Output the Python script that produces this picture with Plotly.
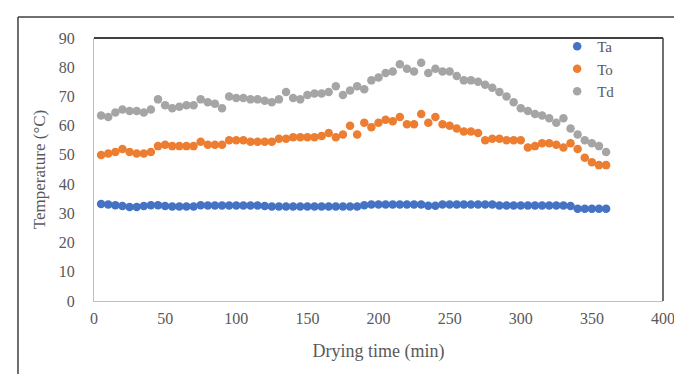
import plotly.graph_objects as go

time_min = list(range(5, 365, 5))

Ta = [33.2, 33.0, 32.8, 32.5, 32.2, 32.2, 32.5, 32.8, 32.8, 32.5,
      32.3, 32.3, 32.3, 32.3, 32.8, 32.7, 32.7, 32.7, 32.7, 32.7,
      32.7, 32.7, 32.7, 32.5, 32.3, 32.3, 32.3, 32.3, 32.3, 32.3,
      32.3, 32.3, 32.3, 32.3, 32.3, 32.3, 32.3, 32.8, 33.0, 33.0,
      33.0, 33.0, 33.0, 33.0, 33.0, 33.0, 32.6, 32.6, 33.0, 33.0,
      33.0, 33.0, 33.0, 33.0, 33.0, 33.0, 32.7, 32.7, 32.7, 32.7,
      32.7, 32.7, 32.7, 32.7, 32.7, 32.7, 32.5, 31.6, 31.6, 31.6,
      31.6, 31.6]

To = [50.0, 50.5, 51.0, 52.0, 51.0, 50.5, 50.5, 51.0, 53.0, 53.5,
      53.0, 53.0, 53.0, 53.0, 54.5, 53.5, 53.5, 53.5, 55.0, 55.0,
      55.0, 54.5, 54.5, 54.5, 54.5, 55.5, 55.5, 56.0, 56.0, 56.0,
      56.0, 56.5, 57.5, 56.0, 57.0, 60.0, 57.0, 61.0, 59.5, 61.0,
      62.0, 61.5, 63.0, 60.5, 60.5, 64.0, 61.0, 63.0, 60.5, 60.0,
      59.0, 58.0, 58.0, 57.5, 55.0, 55.5, 55.5, 55.0, 55.0, 55.0,
      52.5, 53.0, 54.0, 54.0, 53.5, 52.5, 54.0, 52.0, 49.0, 47.5,
      46.5, 46.5]

Td = [63.5, 63.0, 64.5, 65.5, 65.0, 65.0, 64.5, 65.5, 69.0, 67.0,
      66.0, 66.5, 67.0, 67.0, 69.0, 68.0, 67.5, 66.0, 70.0, 69.5,
      69.5, 69.0, 69.0, 68.5, 68.0, 69.0, 71.5, 69.5, 69.0, 70.5,
      71.0, 71.0, 71.5, 73.5, 70.5, 72.0, 73.5, 72.5, 75.5, 76.5,
      78.0, 78.5, 81.0, 79.5, 78.5, 81.5, 78.0, 79.5, 78.5, 78.5,
      77.0, 75.5, 75.5, 75.0, 74.0, 73.0, 71.5, 70.0, 68.0, 66.0,
      65.0, 64.0, 63.5, 62.5, 61.0, 62.5, 59.0, 57.0, 55.0, 54.0,
      53.0, 51.0]

x_ticks = [0, 50, 100, 150, 200, 250, 300, 350, 400]
y_ticks = [0, 10, 20, 30, 40, 50, 60, 70, 80, 90]

series = [("Ta", Ta, "#4472C4"), ("To", To, "#ED7D31"), ("Td", Td, "#A5A5A5")]

fig = go.Figure()
for name, vals, color in series:
    fig.add_trace(go.Scatter(x=time_min, y=vals, mode="markers", name=name,
                             marker=dict(color=color, size=8.5, line=dict(width=0))))

serif = "Liberation Serif, Times New Roman, serif"
fig.update_layout(
    width=682, height=374,
    margin=dict(l=86, r=27, t=30, b=81),
    paper_bgcolor="white", plot_bgcolor="white",
    font=dict(family=serif, color="#595959", size=16),
    showlegend=True,
    legend=dict(x=0.814, y=1.03, xanchor="left", yanchor="top",
                bgcolor="rgba(0,0,0,0)", font=dict(size=15, color="#595959"),
                tracegroupgap=0, itemwidth=30),
    xaxis=dict(range=[0, 400], tickvals=x_ticks, showgrid=False, zeroline=False,
               showline=True, linecolor="#BFBFBF", linewidth=1, ticks="",
               ticklabelstandoff=3,
               title=dict(text="Drying time (min)", font=dict(size=18, color="#595959"), standoff=18),
               tickfont=dict(size=16, color="#595959")),
    yaxis=dict(range=[0, 90], tickvals=y_ticks, showgrid=False, zeroline=False,
               showline=True, linecolor="#BFBFBF", linewidth=1, ticks="",
               ticklabelstandoff=15,
               title=dict(text="Temperature (°C)", font=dict(size=17, color="#595959"), standoff=8),
               tickfont=dict(size=16, color="#595959")),
)

# plot-area top/right border
fig.add_shape(type="line", xref="paper", yref="paper", x0=0, x1=1, y0=1, y1=1,
              line=dict(color="#404040", width=2))
fig.add_shape(type="line", xref="paper", yref="paper", x0=1, x1=1, y0=0, y1=1,
              line=dict(color="#404040", width=1.5))
# outer frame (top and left)
fig.add_shape(type="line", xref="paper", yref="paper", x0=-0.1336, x1=1.05, y0=1.08, y1=1.08,
              line=dict(color="#404040", width=1.5))
fig.add_shape(type="line", xref="paper", yref="paper", x0=-0.1336, x1=-0.1336, y0=-0.32, y1=1.08,
              line=dict(color="#404040", width=1.5))

fig.write_html("out.html")
